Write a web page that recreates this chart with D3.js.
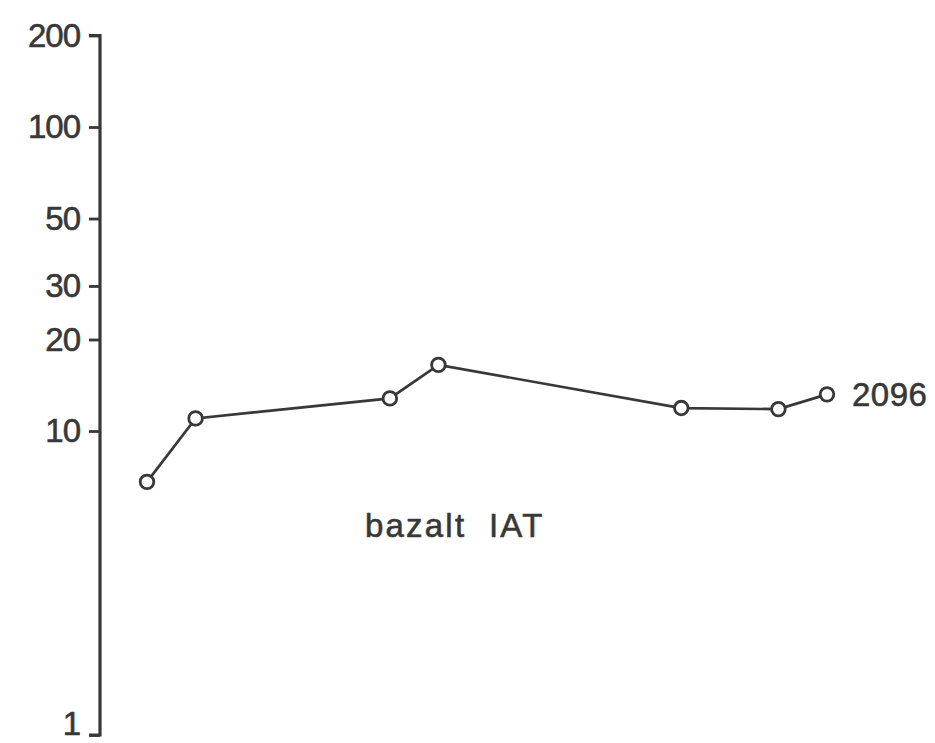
<!DOCTYPE html>
<html>
<head>
<meta charset="utf-8">
<script src="https://cdn.jsdelivr.net/npm/d3@7"></script>
<style>
  html, body { margin: 0; padding: 0; background: #fff; }
  svg { display: block; }
  text { font-family: "Liberation Sans", Arial, sans-serif; fill: #383838; stroke: #383838; stroke-width: 0.6px; }
</style>
</head>
<body>
<svg id="chart" width="935" height="743"></svg>
<script>
// Chondrite-normalised REE pattern, sample 2096 (bazalt IAT)
const elements = ["La", "Ce", "Sm", "Eu", "Er", "Yb", "Lu"];
const atomicNumbers = [57, 58, 62, 63, 68, 70, 71];
const values = [6.8, 11.0, 12.8, 16.5, 11.9, 11.8, 13.2];
const yTicks = [1, 10, 20, 30, 50, 100, 200];
const sampleName = "2096";
const rockLabel = "bazalt  IAT";

const svg = d3.select("#chart");
const ink = "#383838";

const x = d3.scaleLinear().domain([57, 71]).range([147, 827]);
const y = d3.scaleLog().domain([1, 200]).range([735, 35.5]);

// Vertical logarithmic axis with ticks pointing left
const yAxis = d3.axisLeft(y)
  .tickValues(yTicks)
  .tickFormat(d3.format("d"))
  .tickSize(11)
  .tickPadding(9);

const gAxis = svg.append("g")
  .attr("transform", "translate(100,0)")
  .call(yAxis);

gAxis.select(".domain")
  .attr("d", `M-11,${y(200)}H0V${y(1)}H-11`)
  .attr("stroke", ink)
  .attr("stroke-width", 3.2)
  .attr("fill", "none");
gAxis.selectAll(".tick line").attr("stroke", ink).attr("stroke-width", 2.8);
gAxis.selectAll(".tick text")
  .attr("font-size", 33)
  .attr("fill", ink)
  .style("letter-spacing", "-1px")
  .attr("dy", d => d === 1 ? "-0.02em" : "0.32em");

const pts = elements.map((e, i) => ({ el: e, z: atomicNumbers[i], v: values[i] }));

const line = d3.line().x(d => x(d.z)).y(d => y(d.v));

svg.append("path")
  .datum(pts)
  .attr("d", line)
  .attr("fill", "none")
  .attr("stroke", ink)
  .attr("stroke-width", 2.7);

svg.selectAll("circle.pt")
  .data(pts)
  .enter().append("circle")
  .attr("class", "pt")
  .attr("cx", d => x(d.z))
  .attr("cy", d => y(d.v))
  .attr("r", 6.8)
  .attr("fill", "#fff")
  .attr("stroke", ink)
  .attr("stroke-width", 2.8);

// Sample label next to the last point
const last = pts[pts.length - 1];
svg.append("text")
  .attr("x", x(last.z) + 25)
  .attr("y", y(last.v))
  .attr("dy", "0.36em")
  .attr("font-size", 33)
  .style("letter-spacing", "0.5px")
  .text(sampleName);

svg.append("text")
  .attr("x", 365)
  .attr("y", 537)
  .attr("font-size", 33)
  .attr("xml:space", "preserve")
  .style("white-space", "pre")
  .style("letter-spacing", "2.2px")
  .text(rockLabel);
</script>
</body>
</html>
